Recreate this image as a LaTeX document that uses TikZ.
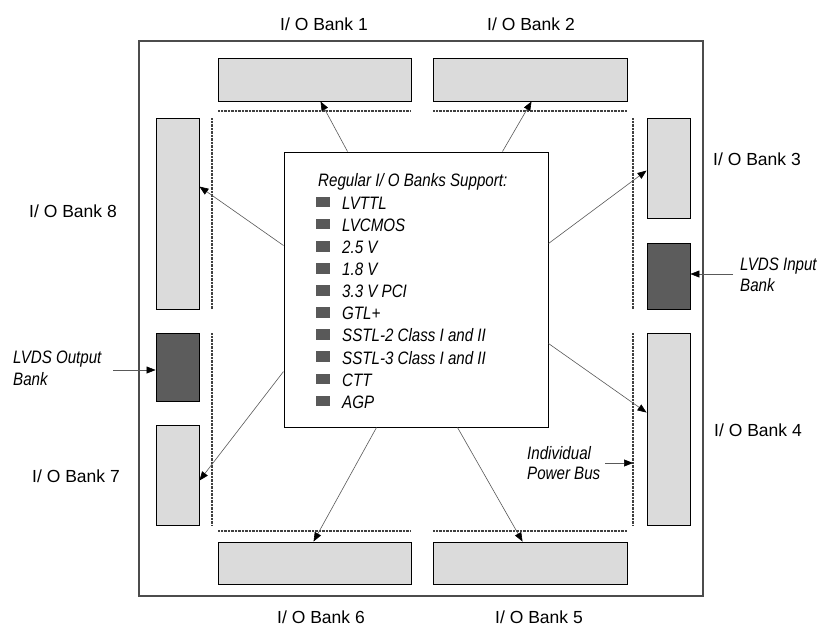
\documentclass[tikz,border=0pt]{standalone}
\usepackage{fontspec}
\setmainfont{Liberation Sans}
\newfontfamily\narrowit{Liberation Sans}[FakeStretch=0.84]
\usetikzlibrary{arrows.meta,calc}
\begin{document}
\begin{tikzpicture}[x=1pt,y=-1pt,
  bank/.style={draw=black,line width=0.9pt,fill=black!14,inner sep=0pt,rectangle},
  lvds/.style={draw=black,line width=0.9pt,fill=black!64,inner sep=0pt,rectangle},
  chip/.style={draw=black!70,line width=1.3pt,inner sep=0pt,rectangle},
  core/.style={draw=black,line width=1pt,fill=white,inner sep=0pt,rectangle},
  conn/.style={draw=black!65,line width=0.6pt,-{Triangle[length=9pt,width=7pt,color=black]}},
  bus/.style={draw=black!75,line width=1.3pt,dash pattern=on 0.7pt off 0.7pt},
  bullet/.style={fill=black!65},
  lab/.style={font=\fontsize{17.5}{20}\selectfont,inner sep=0pt,anchor=base west},
  itl/.style={font=\narrowit\itshape\fontsize{18}{21}\selectfont,inner sep=0pt,anchor=base west},
]
\useasboundingbox (0,0) rectangle (819,627);
\fill[white] (0,0) rectangle (819,627);

% chip outline
\node[chip,minimum width=564pt,minimum height=555pt] (chipbox) at (421,318.5) {};

% banks
\node[bank,minimum width=193pt,minimum height=43pt] (b1) at (314.5,79.5) {};
\node[bank,minimum width=194pt,minimum height=43pt] (b2) at (530,79.5) {};
\node[bank,minimum width=43pt,minimum height=100pt] (b3) at (668.5,168) {};
\node[lvds,minimum width=43pt,minimum height=66pt] (li) at (668.5,276) {};
\node[bank,minimum width=43pt,minimum height=192pt] (b4) at (668.5,429) {};
\node[bank,minimum width=194pt,minimum height=42pt] (b5) at (530,563) {};
\node[bank,minimum width=193pt,minimum height=42pt] (b6) at (314.5,563) {};
\node[bank,minimum width=43pt,minimum height=100pt] (b7) at (177.5,475) {};
\node[lvds,minimum width=43pt,minimum height=68pt] (lo) at (177.5,367) {};
\node[bank,minimum width=43pt,minimum height=191pt] (b8) at (177.5,213.5) {};

% power buses (dotted)
\draw[bus] (218,111) -- (411,111);
\draw[bus] (433,111) -- (627,111);
\draw[bus] (218,531) -- (411,531);
\draw[bus] (433,531) -- (627,531);
\draw[bus] (212,118) -- (212,309);
\draw[bus] (212,333) -- (212,525);
\draw[bus] (633,118) -- (633,309);
\draw[bus] (633,333) -- (633,525);

% core box
\node[core,minimum width=264pt,minimum height=275pt] (c) at (416,289.5) {};
\node[itl] (title) at (318,186.7) {Regular I/ O Banks Support:};
\foreach \t [count=\i from 0] in {LVTTL,LVCMOS,2.5 V,1.8 V,3.3 V PCI,GTL+,SSTL-2 Class I and II,SSTL-3 Class I and II,CTT,AGP}{
  \pgfmathsetmacro{\yb}{209.3+22.1*\i}
  \fill[bullet] (316,\yb-12.6) rectangle (330,\yb-2);
  \node[itl] (it\i) at (342,\yb) {\t};
}

% connectors from core to banks
\draw[conn] ([xshift=64pt]c.north west) -- ([xshift=103pt]b1.south west);
\draw[conn] ([xshift=219pt]c.north west) -- ([xshift=99pt]b2.south west);
\draw[conn] ([yshift=-92pt]c.north east) -- ([yshift=-53pt]b3.north west);
\draw[conn] ([yshift=-192pt]c.north east) -- ([yshift=-80pt]b4.north west);
\draw[conn] ([xshift=174pt]c.south west) -- ([xshift=90pt]b5.north west);
\draw[conn] ([xshift=93pt]c.south west) -- ([xshift=96pt]b6.north west);
\draw[conn] ([yshift=-220pt]c.north west) -- ([yshift=-56pt]b7.north east);
\draw[conn] ([yshift=-94pt]c.north west) -- ([yshift=-69pt]b8.north east);

% bank labels
\node[lab] (l1) at (280,30.7) {I/ O Bank 1};
\node[lab] (l2) at (487,30.7) {I/ O Bank 2};
\node[lab] (l3) at (713,165) {I/ O Bank 3};
\node[lab] (l4) at (714,436) {I/ O Bank 4};
\node[lab] (l5) at (495,623.3) {I/ O Bank 5};
\node[lab] (l6) at (277,623.3) {I/ O Bank 6};
\node[lab] (l7) at (32,482) {I/ O Bank 7};
\node[lab] (l8) at (29,217.7) {I/ O Bank 8};

% LVDS and power bus callouts
\node[itl] (lo1) at (13,363.3) {LVDS Output};
\node[itl] (lo2) at (13,385) {Bank};
\node[itl] (li1) at (740,270.7) {LVDS Input};
\node[itl] (li2) at (740,291.7) {Bank};
\node[itl] (pb1) at (527,459) {Individual};
\node[itl] (pb2) at (527,479.3) {Power Bus};

\coordinate (aout) at (113,370);
\draw[conn] (aout) -- (aout -| lo.west);
\coordinate (ain) at (733,274);
\draw[conn] (ain) -- (ain -| li.east);
\coordinate (apb) at (605,463);
\coordinate (rbus) at (633,463);
\draw[conn] (apb) -- (rbus);
\end{tikzpicture}
\end{document}
